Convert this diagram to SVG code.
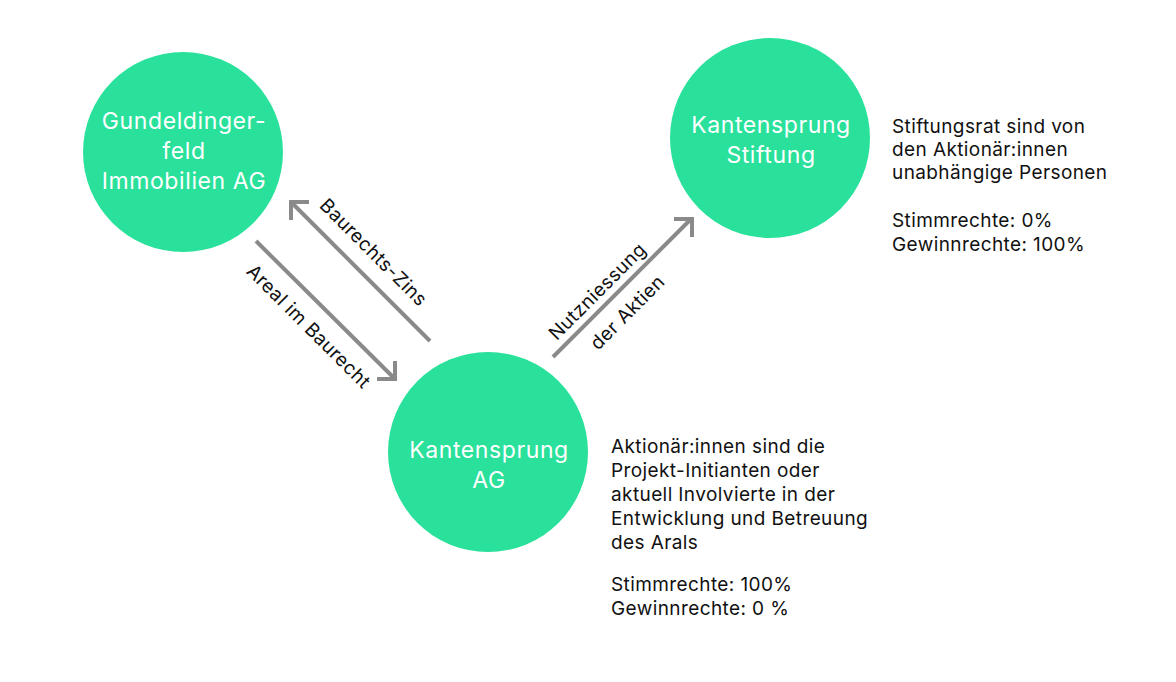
<svg xmlns="http://www.w3.org/2000/svg" width="1176" height="682" viewBox="0 0 1176 682">
<style>
.node{fill:#29E19B}
.nt{font-family:Inter,"Noto Sans",sans-serif;font-size:23px;letter-spacing:0.6px;fill:#ffffff;text-anchor:middle}
.desc{font-family:Inter,"Noto Sans",sans-serif;font-size:19px;letter-spacing:0.4px;fill:#111111}
.lbl{font-family:Inter,"Noto Sans",sans-serif;font-size:19px;letter-spacing:0.4px;fill:#111111;text-anchor:middle}
.ln{stroke:#8a8a8a;stroke-width:4;fill:none;stroke-linecap:butt}
.ah{stroke:#8a8a8a;stroke-width:4;fill:none;stroke-linejoin:miter}
</style>
<rect width="1176" height="682" fill="#ffffff"/>
<g id="gundeldinger">
<circle class="node" cx="183" cy="152" r="100"/>
<text class="nt" x="184" y="129">Gundeldinger-</text>
<text class="nt" x="184" y="159">feld</text>
<text class="nt" x="184" y="189">Immobilien AG</text>
</g>
<g id="stiftung">
<circle class="node" cx="770" cy="138" r="100"/>
<text class="nt" x="771" y="133">Kantensprung</text>
<text class="nt" x="771" y="163">Stiftung</text>
</g>
<g id="ag">
<circle class="node" cx="488" cy="452" r="100"/>
<text class="nt" x="489" y="458">Kantensprung</text>
<text class="nt" x="489" y="488">AG</text>
</g>
<g id="stiftung-desc">
<text class="desc" x="892" y="133">Stiftungsrat sind von</text>
<text class="desc" x="892" y="156">den Aktionär:innen</text>
<text class="desc" x="892" y="179">unabhängige Personen</text>
<text class="desc" x="892" y="227">Stimmrechte: 0%</text>
<text class="desc" x="892" y="251">Gewinnrechte: 100%</text>
</g>
<g id="ag-desc">
<text class="desc" x="611" y="453">Aktionär:innen sind die</text>
<text class="desc" x="611" y="477">Projekt-Initianten oder</text>
<text class="desc" x="611" y="501">aktuell Involvierte in der</text>
<text class="desc" x="611" y="525">Entwicklung und Betreuung</text>
<text class="desc" x="611" y="549">des Arals</text>
<text class="desc" x="611" y="591">Stimmrechte: 100%</text>
<text class="desc" x="611" y="615">Gewinnrechte: 0 %</text>
</g>
<g id="connectors">
<line class="ln" x1="256" y1="241" x2="394" y2="378"/>
<polyline class="ah" points="377,379 395,379 395,361"/>
<line class="ln" x1="430" y1="341" x2="292" y2="203"/>
<polyline class="ah" points="309,202 291,202 291,220"/>
<line class="ln" x1="553" y1="357" x2="690" y2="220"/>
<polyline class="ah" points="674,219 692,219 692,237"/>
<text class="lbl" transform="translate(304,331) rotate(45)">Areal im Baurecht</text>
<text class="lbl" transform="translate(369,257) rotate(45)">Baurechts-Zins</text>
<text class="lbl" transform="translate(602,296) rotate(-45)">Nutzniessung</text>
<text class="lbl" transform="translate(632,317) rotate(-45)">der Aktien</text>
</g>
</svg>
